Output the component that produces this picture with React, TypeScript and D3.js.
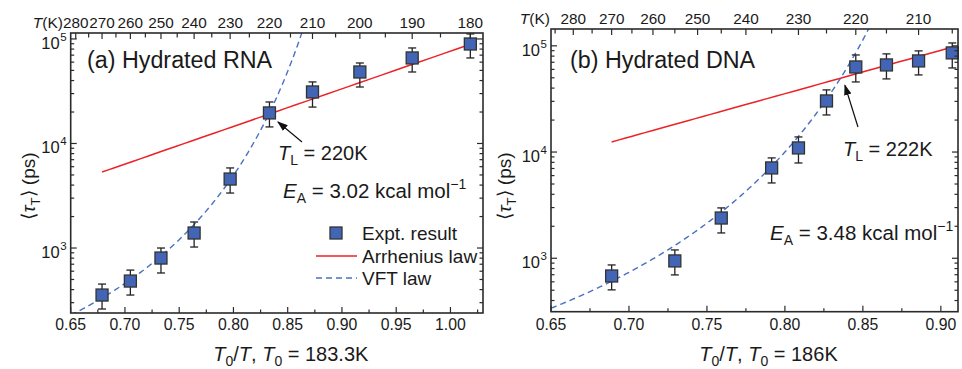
import React from "react";
import * as d3 from "d3";

// ---- Relaxation-time data (ps) vs temperature (K) ----
const tempsRNA = [270, 260, 250, 240, 230, 220, 210, 200, 190, 180];
const tauRNA = [355, 483, 802, 1392, 4570, 19600, 31100, 48300, 65800, 89500];
const tauRNALow = [261, 355, 577, 1022, 3357, 14400, 22300, 34700, 48300, 65800];
const tauRNAHigh = [452, 615, 1000, 1774, 5836, 24950, 38800, 58900, 82000, 111700];

const tempsDNA = [270, 255, 245, 235, 230, 225, 220, 215, 210, 205];
const tauDNA = [681, 944, 2393, 7085, 10930, 30270, 63240, 66070, 72080, 85760];
const tauDNALow = [504, 697, 1731, 5117, 7890, 22340, 45700, 48800, 53200, 61900];
const tauDNAHigh = [865, 1198, 2979, 8805, 13870, 38460, 82040, 83960, 89600, 106400];

// Fit parameters
const T0_RNA = 183.3;
const EA_RNA = 3.02; // kcal/mol
const TAU_REF_RNA = 5330; // Arrhenius value at 270 K
const VFT_RNA = { A: 1.14, B: 123, Tv: 181 };
const TL_RNA = 220;
const ARRH_RANGE_RNA = [270, 180];

const T0_DNA = 186;
const EA_DNA = 3.48;
const TAU_REF_DNA = 12450;
const VFT_DNA = { A: 1.14, B: 145, Tv: 181.8 };
const TL_DNA = 222;
const ARRH_RANGE_DNA = [270, 205];

const topLabelsRNA = [280, 270, 260, 250, 240, 230, 220, 210, 200, 190, 180];
const topLabelsDNA = [280, 270, 260, 250, 240, 230, 220, 210];

const R_KCAL = 1.987e-3;
const FONT = "'Liberation Sans', Arial, Helvetica, sans-serif";
const RED = "#ec2227";
const BLUE_DASH = "#4a70c2";
const SQ_FILL = "#4266b5";
const AXIS = "#2a2a2a";

type PanelProps = {
  id: string;
  frame: { x0: number; x1: number; y0: number; y1: number };
  xDomain: [number, number];
  yDomain: [number, number];
  T0: number;
  temps: number[];
  tau: number[];
  lo: number[];
  hi: number[];
  EA: number;
  tauRef: number;
  vft: { A: number; B: number; Tv: number };
  TL: number;
  arrhRange: number[];
  topLabels: number[];
  title: string;
  tkEnd: number;
  ylabelX: number;
  titlePos: [number, number];
  tlPos: [number, number];
  arrowTail: [number, number];
  arrowTipOffset: [number, number];
  eaPos: [number, number];
  legend?: boolean;
};

function Panel(p: PanelProps) {
  const { x0, x1, y0, y1 } = p.frame;
  const x = d3.scaleLinear().domain(p.xDomain).range([x0, x1]);
  const y = d3.scaleLog().domain(p.yDomain).range([y1, y0]);
  const xs = p.temps.map((t) => p.T0 / t);

  // Arrhenius: log10 tau = log10 tauRef + EA/(R ln10) (1/T - 1/270)
  const arrh = (T: number) =>
    Math.pow(10, Math.log10(p.tauRef) + (p.EA / (R_KCAL * Math.LN10)) * (1 / T - 1 / 270));
  const vft = (T: number) => Math.pow(10, p.vft.A + p.vft.B / (T - p.vft.Tv));

  const line = d3
    .line<[number, number]>()
    .x((d) => d[0])
    .y((d) => d[1]);

  const arrhPts: [number, number][] = d3
    .range(0, 41)
    .map((i) => p.arrhRange[0] + ((p.arrhRange[1] - p.arrhRange[0]) * i) / 40)
    .map((T) => [x(p.T0 / T), y(arrh(T))]);

  const vftPts: [number, number][] = [];
  for (let xv = p.xDomain[0]; xv <= p.xDomain[1]; xv += 0.001) {
    const T = p.T0 / xv;
    if (T <= p.vft.Tv + 2) break;
    const v = vft(T);
    vftPts.push([x(xv), y(Math.min(v, 1e7))]);
    if (v > p.yDomain[1] * 3) break;
  }

  // bottom ticks
  const majorX = d3.range(0, 20).map((i) => +(0.65 + i * 0.05).toFixed(3)).filter((v) => v <= p.xDomain[1] + 1e-9);
  const minorX = d3.range(0, 20).map((i) => +(0.675 + i * 0.05).toFixed(3)).filter((v) => v <= p.xDomain[1] + 1e-9);

  // log ticks
  const decades = d3.range(1, 7).map((k) => Math.pow(10, k));
  const majorY = decades.filter((v) => v >= p.yDomain[0] && v <= p.yDomain[1]);
  const minorY: number[] = [];
  decades.forEach((d) => {
    for (let m = 2; m <= 9; m++) {
      const v = d * m;
      if (v >= p.yDomain[0] && v <= p.yDomain[1]) minorY.push(v);
    }
  });

  // top temperature ticks every 5 K
  const topT: number[] = [];
  for (let T = 300; T >= 150; T -= 5) {
    const xv = p.T0 / T;
    if (xv >= p.xDomain[0] && xv <= p.xDomain[1]) topT.push(T);
  }

  const fmt = d3.format(".2f");
  const tipX = x(p.T0 / p.TL) + p.arrowTipOffset[0];
  const tipY = y(arrh(p.TL)) + p.arrowTipOffset[1];

  return (
    <g fontFamily={FONT} fill="#1a1a1a">
      <defs>
        <clipPath id={`clip-${p.id}`}>
          <rect x={x0} y={y0} width={x1 - x0} height={y1 - y0} />
        </clipPath>
        <marker id={`arr-${p.id}`} viewBox="0 0 10 10" refX="9" refY="5" markerWidth="9" markerHeight="9" orient="auto">
          <path d="M0,1.5 L10,5 L0,8.5 z" fill="#111" />
        </marker>
      </defs>

      <g clipPath={`url(#clip-${p.id})`}>
        <path d={line(arrhPts) || ""} fill="none" stroke={RED} strokeWidth={1.5} />
        <path d={line(vftPts) || ""} fill="none" stroke={BLUE_DASH} strokeWidth={1.4} strokeDasharray="6,4" />
      </g>

      {/* error bars and markers */}
      {xs.map((xv, i) => {
        const cx = x(xv);
        return (
          <g key={i}>
            <line x1={cx} x2={cx} y1={y(p.lo[i])} y2={y(p.hi[i])} stroke="#222" strokeWidth={1.3} />
            <line x1={cx - 4} x2={cx + 4} y1={y(p.lo[i])} y2={y(p.lo[i])} stroke="#222" strokeWidth={1.3} />
            <line x1={cx - 4} x2={cx + 4} y1={y(p.hi[i])} y2={y(p.hi[i])} stroke="#222" strokeWidth={1.3} />
            <rect x={cx - 6} y={y(p.tau[i]) - 6} width={12} height={12} fill={SQ_FILL} stroke="#333" strokeWidth={1.3} />
          </g>
        );
      })}

      {/* frame */}
      <rect x={x0} y={y0} width={x1 - x0} height={y1 - y0} fill="none" stroke={AXIS} strokeWidth={1.6} />

      {/* bottom axis */}
      {majorX.map((v) => (
        <g key={`mx${v}`}>
          <line x1={x(v)} x2={x(v)} y1={y1} y2={y1 - 6} stroke={AXIS} strokeWidth={1.2} />
          <text x={x(v)} y={330} textAnchor="middle" fontSize={15.8}>
            {fmt(v)}
          </text>
        </g>
      ))}
      {minorX.map((v) => (
        <line key={`nx${v}`} x1={x(v)} x2={x(v)} y1={y1} y2={y1 - 3.5} stroke={AXIS} strokeWidth={1.2} />
      ))}

      {/* top temperature axis */}
      {topT.map((T) => (
        <line key={`tt${T}`} x1={x(p.T0 / T)} x2={x(p.T0 / T)} y1={y0} y2={y0 + (T % 10 === 0 ? 6 : 4.5)} stroke={AXIS} strokeWidth={1.2} />
      ))}
      {p.topLabels.map((T) => (
        <text key={`tl${T}`} x={x(p.T0 / T)} y={y0 - 5} textAnchor="middle" fontSize={15.3}>
          {T}
        </text>
      ))}
      <text x={p.tkEnd} y={y0 - 5} textAnchor="end" fontSize={15.5}>
        <tspan fontStyle="italic">T</tspan>(K)
      </text>

      {/* y axes, both sides */}
      {majorY.map((v) => (
        <g key={`my${v}`}>
          <line x1={x0} x2={x0 + 6} y1={y(v)} y2={y(v)} stroke={AXIS} strokeWidth={1.2} />
          <line x1={x1} x2={x1 - 6} y1={y(v)} y2={y(v)} stroke={AXIS} strokeWidth={1.2} />
          <text x={x0 - 11} y={y(v) + 10} textAnchor="end" fontSize={16.5}>
            10
          </text>
          <text x={x0 - 4} y={y(v) + 2} textAnchor="end" fontSize={11.5}>
            {Math.round(Math.log10(v))}
          </text>
        </g>
      ))}
      {minorY.map((v) => (
        <g key={`ny${v}`}>
          <line x1={x0} x2={x0 + 3.5} y1={y(v)} y2={y(v)} stroke={AXIS} strokeWidth={1.2} />
          <line x1={x1} x2={x1 - 3.5} y1={y(v)} y2={y(v)} stroke={AXIS} strokeWidth={1.2} />
        </g>
      ))}

      {/* y axis title */}
      <text transform={`translate(${p.ylabelX},186) rotate(-90)`} textAnchor="middle" fontSize={19}>
        ⟨<tspan fontStyle="italic">τ</tspan>
        <tspan dy={5} fontSize={13}>T</tspan>
        <tspan dy={-5}>⟩ (ps)</tspan>
      </text>

      {/* x axis title */}
      <text x={(x0 + x1) / 2 + 14} y={361} textAnchor="middle" fontSize={20}>
        <tspan fontStyle="italic">T</tspan>
        <tspan dy={5} fontSize={14}>0</tspan>
        <tspan dy={-5}>/</tspan>
        <tspan fontStyle="italic">T</tspan>, <tspan fontStyle="italic">T</tspan>
        <tspan dy={5} fontSize={14}>0</tspan>
        <tspan dy={-5}> = {p.T0}K</tspan>
      </text>

      {/* panel title */}
      <text x={p.titlePos[0]} y={p.titlePos[1]} fontSize={23.3}>
        {p.title}
      </text>

      {/* crossover annotation */}
      <line x1={p.arrowTail[0]} y1={p.arrowTail[1]} x2={tipX} y2={tipY} stroke="#111" strokeWidth={1.2} markerEnd={`url(#arr-${p.id})`} />
      <text x={p.tlPos[0]} y={p.tlPos[1]} fontSize={20}>
        <tspan fontStyle="italic">T</tspan>
        <tspan dy={5} fontSize={14}>L</tspan>
        <tspan dy={-5}> = {p.TL}K</tspan>
      </text>

      {/* activation energy */}
      <text x={p.eaPos[0]} y={p.eaPos[1]} fontSize={20.5}>
        <tspan fontStyle="italic">E</tspan>
        <tspan dy={5} fontSize={14}>A</tspan>
        <tspan dy={-5}> = {p.EA.toFixed(2)} kcal mol</tspan>
        <tspan dy={-9} fontSize={14}>−1</tspan>
      </text>

      {p.legend && (
        <g fontSize={19}>
          <rect x={330} y={227} width={12} height={12} fill={SQ_FILL} stroke="#333" strokeWidth={1.3} />
          <text x={362} y={240}>Expt. result</text>
          <line x1={316} x2={357} y1={256} y2={256} stroke={RED} strokeWidth={1.5} />
          <text x={362} y={263}>Arrhenius law</text>
          <line x1={316} x2={357} y1={278} y2={278} stroke={BLUE_DASH} strokeWidth={1.4} strokeDasharray="6,4" />
          <text x={362} y={285}>VFT law</text>
        </g>
      )}
    </g>
  );
}

export default function App() {
  return (
    <svg width={962} height={369} style={{ position: "absolute", left: 0, top: 0, background: "#fff" }}>
      <rect width={962} height={369} fill="#fff" />
      <Panel
        id="rna"
        frame={{ x0: 70.7, x1: 483, y0: 33, y1: 313 }}
        xDomain={[0.65, 1.03]}
        yDomain={[239, 114000]}
        T0={T0_RNA}
        temps={tempsRNA}
        tau={tauRNA}
        lo={tauRNALow}
        hi={tauRNAHigh}
        EA={EA_RNA}
        tauRef={TAU_REF_RNA}
        vft={VFT_RNA}
        TL={TL_RNA}
        arrhRange={ARRH_RANGE_RNA}
        topLabels={topLabelsRNA}
        title="(a) Hydrated RNA"
        tkEnd={63}
        ylabelX={35}
        titlePos={[87, 68]}
        tlPos={[278, 160]}
        arrowTail={[302, 142]}
        arrowTipOffset={[8.5, 8]}
        eaPos={[283, 198]}
        legend
      />
      <Panel
        id="dna"
        frame={{ x0: 551, x1: 958, y0: 29, y1: 311.7 }}
        xDomain={[0.65, 0.911]}
        yDomain={[314, 144000]}
        T0={T0_DNA}
        temps={tempsDNA}
        tau={tauDNA}
        lo={tauDNALow}
        hi={tauDNAHigh}
        EA={EA_DNA}
        tauRef={TAU_REF_DNA}
        vft={VFT_DNA}
        TL={TL_DNA}
        arrhRange={ARRH_RANGE_DNA}
        topLabels={topLabelsDNA}
        title="(b) Hydrated DNA"
        tkEnd={550}
        ylabelX={511}
        titlePos={[570, 68]}
        tlPos={[843, 156]}
        arrowTail={[858, 127]}
        arrowTipOffset={[1, 8]}
        eaPos={[770, 240]}
      />
    </svg>
  );
}
